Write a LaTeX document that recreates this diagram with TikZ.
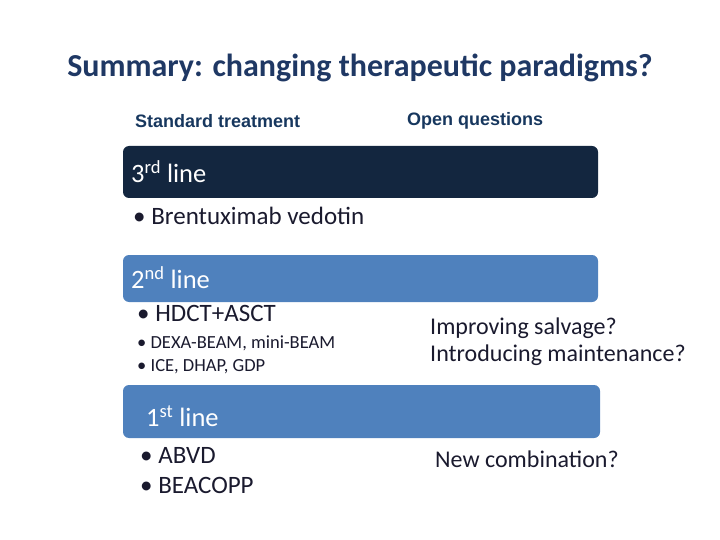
\documentclass[tikz,border=0pt]{standalone}
\usepackage{fontspec}
\setmainfont{Carlito}
\newfontfamily\arialf{Liberation Sans}
\definecolor{titlec}{HTML}{1F3864}
\definecolor{navy}{HTML}{13263F}
\definecolor{barblue}{HTML}{4F81BD}
\definecolor{txt}{HTML}{1A1A2E}
\definecolor{hdrc}{HTML}{17375E}
\begin{document}
\begin{tikzpicture}[x=1pt,y=-1pt,
  bar/.style={rounded corners=6pt},
  lab/.style={anchor=west,text=white,font=\fontsize{26.5}{30}\selectfont,inner sep=0pt},
  body/.style={anchor=west,text=txt,font=\fontsize{25}{30}\selectfont,inner sep=0pt,align=left},
  qtext/.style={anchor=west,text=txt,font=\fontsize{24}{27}\selectfont,inner sep=0pt,align=left},
  small/.style={anchor=west,text=txt,font=\fontsize{18.5}{23}\selectfont,inner sep=0pt,align=left},
  hdr/.style={anchor=west,text=hdrc,font=\arialf\bfseries\fontsize{18}{20}\selectfont,inner sep=0pt}]
\useasboundingbox (0,0) rectangle (720,540);
\node[text=titlec,font=\bfseries\fontsize{32}{36}\selectfont] (title) at (360,68) {Summary: changing therapeutic paradigms?};
\node[hdr] (std) at (135,121) {Standard treatment};
\node[hdr] (oq) at (407,121) {Open questions};
\fill[navy,bar] (123,146) rectangle (598,198);
\node[lab] (l3) at (131,172) {3\textsuperscript{rd} line};
\node[body] (b3) at (133,216) {• Brentuximab vedotin};
\fill[barblue,bar] (123,255) rectangle (598,302);
\node[lab] (l2) at (131,278) {2\textsuperscript{nd} line};
\node[body] (b2) at (137,313) {• HDCT+ASCT};
\node[small] (s2) at (137,355) {• DEXA-BEAM, mini-BEAM\\• ICE, DHAP, GDP};
\node[qtext] (q2) at (430,342) {Improving salvage?\\Introducing maintenance?};
\fill[barblue,bar] (123,385) rectangle (600,438);
\node[lab] (l1) at (146,416) {1\textsuperscript{st} line};
\node[body] (b1) at (140,471) {• ABVD\\• BEACOPP};
\node[qtext] (q1) at (435,459) {New combination?};
\end{tikzpicture}
\end{document}
